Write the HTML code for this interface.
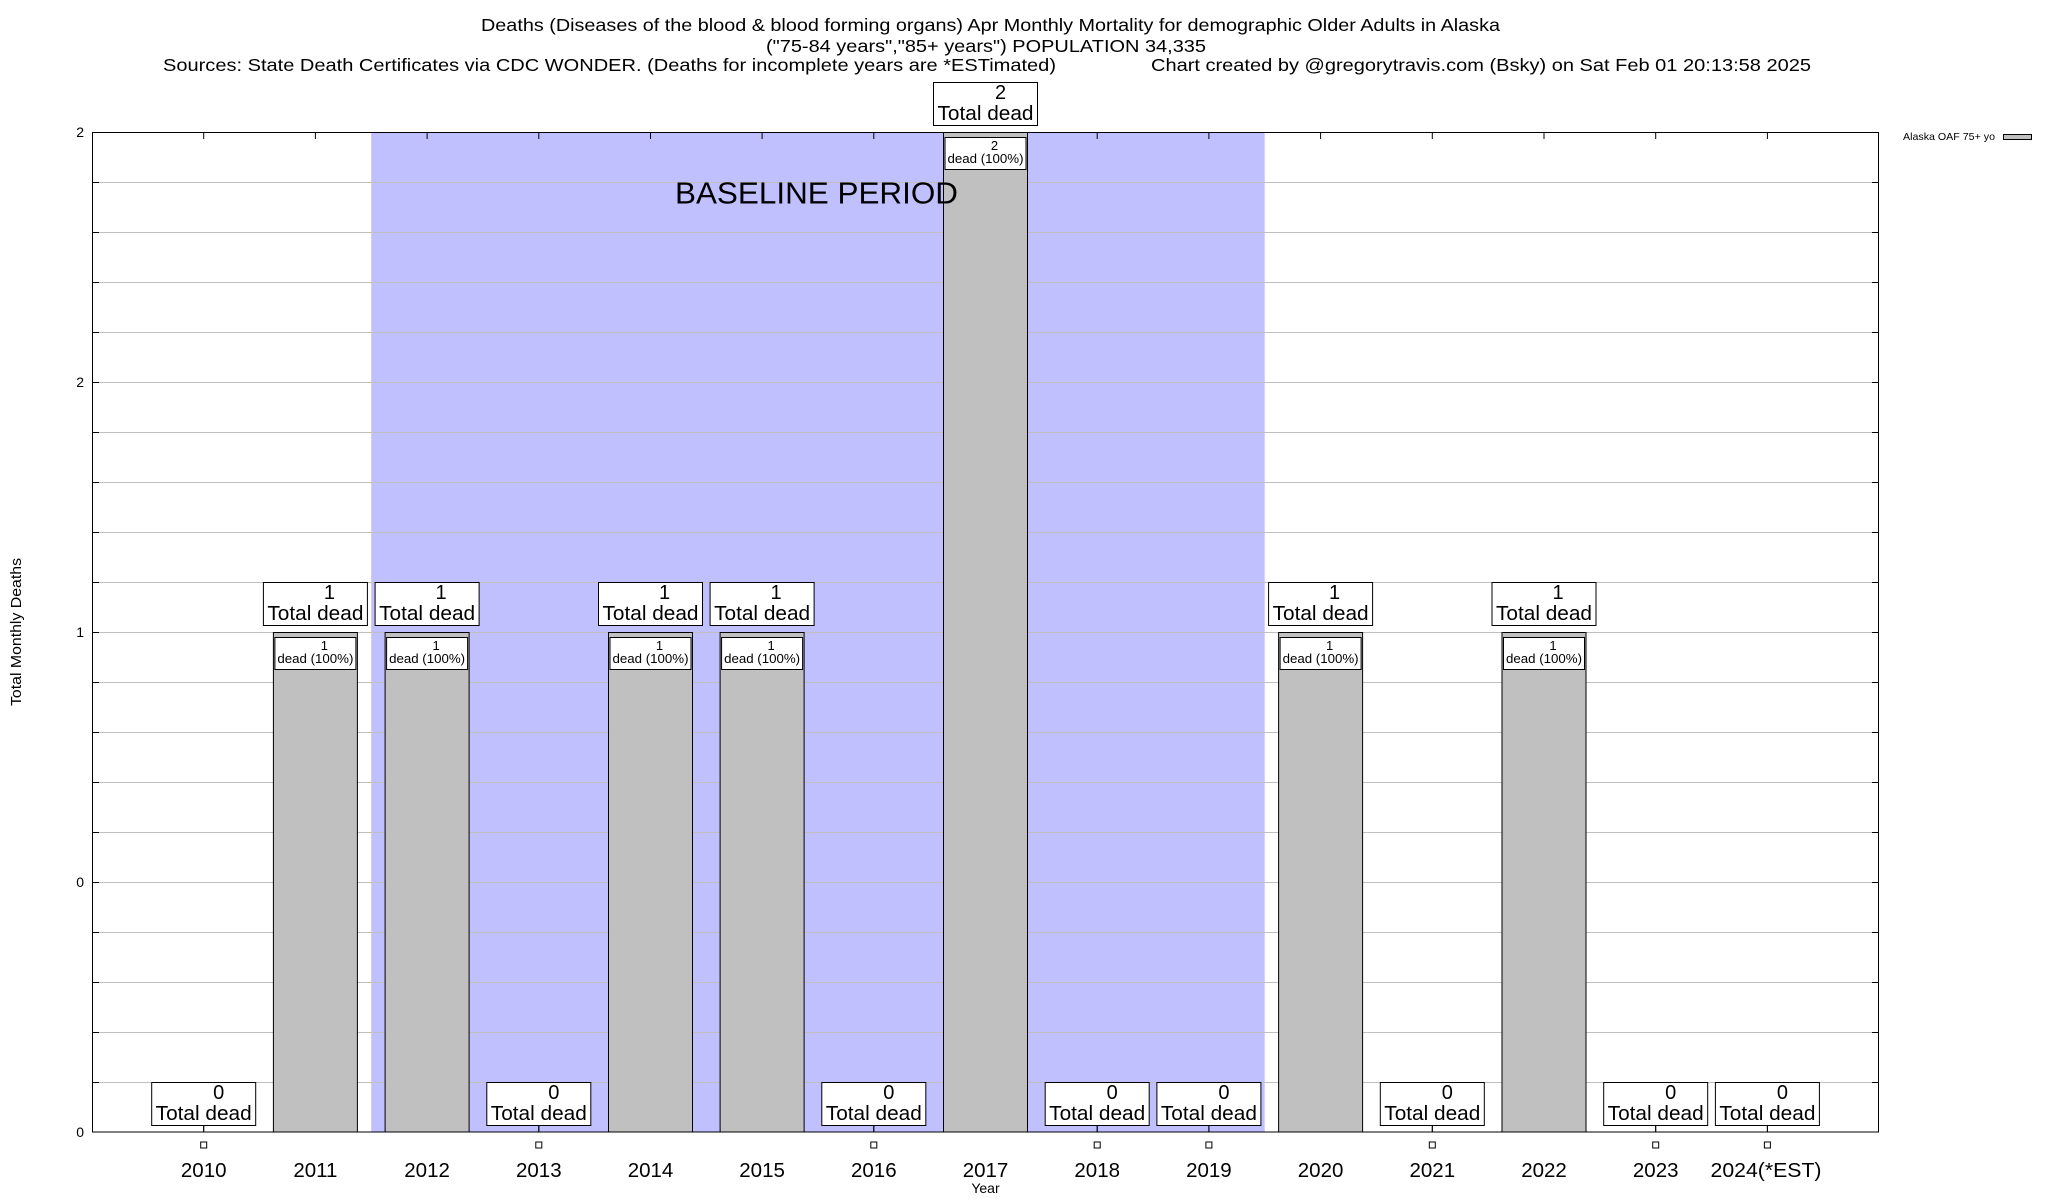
<!DOCTYPE html>
<html>
<head>
<meta charset="utf-8">
<style>
html,body{margin:0;padding:0;background:#fff;}
svg{display:block;}
text{font-family:"Liberation Sans",Arial,sans-serif;fill:#000;}
</style>
</head>
<body>
<svg width="2048" height="1200" viewBox="0 0 2048 1200" xmlns="http://www.w3.org/2000/svg">
<rect x="0" y="0" width="2048" height="1200" fill="#fff"/>

<!-- Titles -->
<text x="481" y="31" font-size="17.5" textLength="1019" lengthAdjust="spacingAndGlyphs">Deaths (Diseases of the blood &amp; blood forming organs) Apr Monthly Mortality for demographic Older Adults in Alaska</text>
<text x="766" y="52" font-size="17.5" textLength="440" lengthAdjust="spacingAndGlyphs">("75-84 years","85+ years") POPULATION 34,335</text>
<text x="163" y="71" font-size="17.5" textLength="893" lengthAdjust="spacingAndGlyphs">Sources: State Death Certificates via CDC WONDER. (Deaths for incomplete years are *ESTimated)</text>
<text x="1151" y="71" font-size="17.5" textLength="660" lengthAdjust="spacingAndGlyphs">Chart created by @gregorytravis.com (Bsky) on Sat Feb 01 20:13:58 2025</text>

<!-- Baseline shading -->
<rect x="371.2" y="132" width="893.5" height="1000" fill="#c0c0ff"/>

<!-- Gridlines -->
<g stroke="#c0c0c0" stroke-width="1">
<line x1="92" x2="1879" y1="182.5" y2="182.5"/>
<line x1="92" x2="1879" y1="232.5" y2="232.5"/>
<line x1="92" x2="1879" y1="282.5" y2="282.5"/>
<line x1="92" x2="1879" y1="332.5" y2="332.5"/>
<line x1="92" x2="1879" y1="382.5" y2="382.5"/>
<line x1="92" x2="1879" y1="432.5" y2="432.5"/>
<line x1="92" x2="1879" y1="482.5" y2="482.5"/>
<line x1="92" x2="1879" y1="532.5" y2="532.5"/>
<line x1="92" x2="1879" y1="582.5" y2="582.5"/>
<line x1="92" x2="1879" y1="632.5" y2="632.5"/>
<line x1="92" x2="1879" y1="682.5" y2="682.5"/>
<line x1="92" x2="1879" y1="732.5" y2="732.5"/>
<line x1="92" x2="1879" y1="782.5" y2="782.5"/>
<line x1="92" x2="1879" y1="832.5" y2="832.5"/>
<line x1="92" x2="1879" y1="882.5" y2="882.5"/>
<line x1="92" x2="1879" y1="932.5" y2="932.5"/>
<line x1="92" x2="1879" y1="982.5" y2="982.5"/>
<line x1="92" x2="1879" y1="1032.5" y2="1032.5"/>
<line x1="92" x2="1879" y1="1082.5" y2="1082.5"/>
</g>

<!-- Ticks -->
<g stroke="#000" stroke-width="1">
<path d="M92 182.5h7M92 232.5h7M92 282.5h7M92 332.5h7M92 382.5h7M92 432.5h7M92 482.5h7M92 532.5h7M92 582.5h7M92 632.5h7M92 682.5h7M92 732.5h7M92 782.5h7M92 832.5h7M92 882.5h7M92 932.5h7M92 982.5h7M92 1032.5h7M92 1082.5h7"/>
<path d="M1879 182.5h-7M1879 232.5h-7M1879 282.5h-7M1879 332.5h-7M1879 382.5h-7M1879 432.5h-7M1879 482.5h-7M1879 532.5h-7M1879 582.5h-7M1879 632.5h-7M1879 682.5h-7M1879 732.5h-7M1879 782.5h-7M1879 832.5h-7M1879 882.5h-7M1879 932.5h-7M1879 982.5h-7M1879 1032.5h-7M1879 1082.5h-7"/>
<path d="M203.7 132v7M315.4 132v7M427.1 132v7M538.8 132v7M650.5 132v7M762.1 132v7M873.8 132v7M985.5 132v7M1097.2 132v7M1208.9 132v7M1320.6 132v7M1432.3 132v7M1544 132v7M1655.7 132v7M1767.4 132v7"/>
<path d="M203.7 1132v-7M315.4 1132v-7M427.1 1132v-7M538.8 1132v-7M650.5 1132v-7M762.1 1132v-7M873.8 1132v-7M985.5 1132v-7M1097.2 1132v-7M1208.9 1132v-7M1320.6 1132v-7M1432.3 1132v-7M1544 1132v-7M1655.7 1132v-7M1767.4 1132v-7"/>
</g>

<!-- Bars -->
<g fill="#c0c0c0" stroke="#000" stroke-width="1">
<rect x="273.4" y="632.5" width="84" height="499.5"/>
<rect x="385.1" y="632.5" width="84" height="499.5"/>
<rect x="608.5" y="632.5" width="84" height="499.5"/>
<rect x="720.1" y="632.5" width="84" height="499.5"/>
<rect x="943.5" y="132.5" width="84" height="999.5"/>
<rect x="1278.6" y="632.5" width="84" height="499.5"/>
<rect x="1502" y="632.5" width="84" height="499.5"/>
</g>

<!-- BASELINE PERIOD (drawn over bars) -->
<text x="675" y="203.5" font-size="30.5" textLength="283" lengthAdjust="spacingAndGlyphs">BASELINE PERIOD</text>

<!-- Inner bar boxes -->
<g fill="#fff" stroke="#000" stroke-width="1">
<rect x="274.9" y="637.5" width="81" height="32"/>
<rect x="386.6" y="637.5" width="81" height="32"/>
<rect x="610" y="637.5" width="81" height="32"/>
<rect x="721.6" y="637.5" width="81" height="32"/>
<rect x="945" y="137.5" width="81" height="32"/>
<rect x="1280.1" y="637.5" width="81" height="32"/>
<rect x="1503.5" y="637.5" width="81" height="32"/>
</g>
<g font-size="13" text-anchor="middle">
<text x="324.4" y="650">1</text><text x="315.4" y="663" textLength="76" lengthAdjust="spacingAndGlyphs">dead (100%)</text>
<text x="436.1" y="650">1</text><text x="427.1" y="663" textLength="76" lengthAdjust="spacingAndGlyphs">dead (100%)</text>
<text x="659.5" y="650">1</text><text x="650.5" y="663" textLength="76" lengthAdjust="spacingAndGlyphs">dead (100%)</text>
<text x="771.1" y="650">1</text><text x="762.1" y="663" textLength="76" lengthAdjust="spacingAndGlyphs">dead (100%)</text>
<text x="994.5" y="150">2</text><text x="985.5" y="163" textLength="76" lengthAdjust="spacingAndGlyphs">dead (100%)</text>
<text x="1329.6" y="650">1</text><text x="1320.6" y="663" textLength="76" lengthAdjust="spacingAndGlyphs">dead (100%)</text>
<text x="1553" y="650">1</text><text x="1544" y="663" textLength="76" lengthAdjust="spacingAndGlyphs">dead (100%)</text>
</g>

<!-- Outer "Total dead" boxes -->
<g fill="#fff" stroke="#000" stroke-width="1">
<rect x="263.4" y="582.5" width="104" height="43"/>
<rect x="375.1" y="582.5" width="104" height="43"/>
<rect x="598.5" y="582.5" width="104" height="43"/>
<rect x="710.1" y="582.5" width="104" height="43"/>
<rect x="933.5" y="82.5" width="104" height="43"/>
<rect x="1268.6" y="582.5" width="104" height="43"/>
<rect x="1492" y="582.5" width="104" height="43"/>
<rect x="151.7" y="1082.5" width="104" height="43"/>
<rect x="486.8" y="1082.5" width="104" height="43"/>
<rect x="821.8" y="1082.5" width="104" height="43"/>
<rect x="1045.2" y="1082.5" width="104" height="43"/>
<rect x="1156.9" y="1082.5" width="104" height="43"/>
<rect x="1380.3" y="1082.5" width="104" height="43"/>
<rect x="1603.7" y="1082.5" width="104" height="43"/>
<rect x="1715.4" y="1082.5" width="104" height="43"/>
</g>
<g font-size="20" text-anchor="middle">
<text x="329.4" y="599">1</text><text x="315.4" y="620" textLength="96" lengthAdjust="spacingAndGlyphs">Total dead</text>
<text x="441.1" y="599">1</text><text x="427.1" y="620" textLength="96" lengthAdjust="spacingAndGlyphs">Total dead</text>
<text x="664.5" y="599">1</text><text x="650.5" y="620" textLength="96" lengthAdjust="spacingAndGlyphs">Total dead</text>
<text x="776.1" y="599">1</text><text x="762.1" y="620" textLength="96" lengthAdjust="spacingAndGlyphs">Total dead</text>
<text x="1000.5" y="99">2</text><text x="985.5" y="120" textLength="96" lengthAdjust="spacingAndGlyphs">Total dead</text>
<text x="1334.6" y="599">1</text><text x="1320.6" y="620" textLength="96" lengthAdjust="spacingAndGlyphs">Total dead</text>
<text x="1558" y="599">1</text><text x="1544" y="620" textLength="96" lengthAdjust="spacingAndGlyphs">Total dead</text>

<text x="218.7" y="1099">0</text><text x="203.7" y="1120" textLength="96" lengthAdjust="spacingAndGlyphs">Total dead</text>
<text x="553.8" y="1099">0</text><text x="538.8" y="1120" textLength="96" lengthAdjust="spacingAndGlyphs">Total dead</text>
<text x="888.8" y="1099">0</text><text x="873.8" y="1120" textLength="96" lengthAdjust="spacingAndGlyphs">Total dead</text>
<text x="1112.2" y="1099">0</text><text x="1097.2" y="1120" textLength="96" lengthAdjust="spacingAndGlyphs">Total dead</text>
<text x="1223.9" y="1099">0</text><text x="1208.9" y="1120" textLength="96" lengthAdjust="spacingAndGlyphs">Total dead</text>
<text x="1447.3" y="1099">0</text><text x="1432.3" y="1120" textLength="96" lengthAdjust="spacingAndGlyphs">Total dead</text>
<text x="1670.7" y="1099">0</text><text x="1655.7" y="1120" textLength="96" lengthAdjust="spacingAndGlyphs">Total dead</text>
<text x="1782.4" y="1099">0</text><text x="1767.4" y="1120" textLength="96" lengthAdjust="spacingAndGlyphs">Total dead</text>
</g>

<!-- Bottom tick stubs between zero boxes and axis -->
<g stroke="#000" stroke-width="1">
<path d="M203.7 1126v6M538.8 1126v6M873.8 1126v6M1097.2 1126v6M1208.9 1126v6M1432.3 1126v6M1655.7 1126v6M1767.4 1126v6"/>
</g>

<!-- Plot border -->
<rect x="92.5" y="132.5" width="1786" height="999.5" fill="none" stroke="#000" stroke-width="1"/>

<!-- zero markers -->
<g fill="#fff" stroke="#000" stroke-width="1">
<rect x="200.7" y="1142" width="6" height="6"/>
<rect x="535.8" y="1142" width="6" height="6"/>
<rect x="870.8" y="1142" width="6" height="6"/>
<rect x="1094.2" y="1142" width="6" height="6"/>
<rect x="1205.9" y="1142" width="6" height="6"/>
<rect x="1429.3" y="1142" width="6" height="6"/>
<rect x="1652.7" y="1142" width="6" height="6"/>
<rect x="1764.4" y="1142" width="6" height="6"/>
</g>

<!-- Y tick labels -->
<g font-size="14" text-anchor="end">
<text x="84" y="137">2</text>
<text x="84" y="387">2</text>
<text x="84" y="637">1</text>
<text x="84" y="887">0</text>
<text x="84" y="1137">0</text>
</g>

<!-- Y axis label -->
<text transform="translate(21,632) rotate(-90)" font-size="15" text-anchor="middle" textLength="148" lengthAdjust="spacingAndGlyphs">Total Monthly Deaths</text>

<!-- X tick labels -->
<g font-size="20.5" text-anchor="middle">
<text x="203.7" y="1177">2010</text>
<text x="315.4" y="1177">2011</text>
<text x="427.1" y="1177">2012</text>
<text x="538.8" y="1177">2013</text>
<text x="650.5" y="1177">2014</text>
<text x="762.1" y="1177">2015</text>
<text x="873.8" y="1177">2016</text>
<text x="985.5" y="1177">2017</text>
<text x="1097.2" y="1177">2018</text>
<text x="1208.9" y="1177">2019</text>
<text x="1320.6" y="1177">2020</text>
<text x="1432.3" y="1177">2021</text>
<text x="1544" y="1177">2022</text>
<text x="1655.7" y="1177">2023</text>
<text x="1766" y="1177" textLength="111" lengthAdjust="spacingAndGlyphs">2024(*EST)</text>
</g>
<text x="985.5" y="1193" font-size="14" text-anchor="middle">Year</text>

<!-- Legend -->
<text x="1903" y="140" font-size="10.5" textLength="92" lengthAdjust="spacingAndGlyphs">Alaska OAF 75+ yo</text>
<rect x="2003.5" y="134.5" width="28" height="5" fill="#c0c0c0" stroke="#000" stroke-width="1"/>
</svg>
</body>
</html>
